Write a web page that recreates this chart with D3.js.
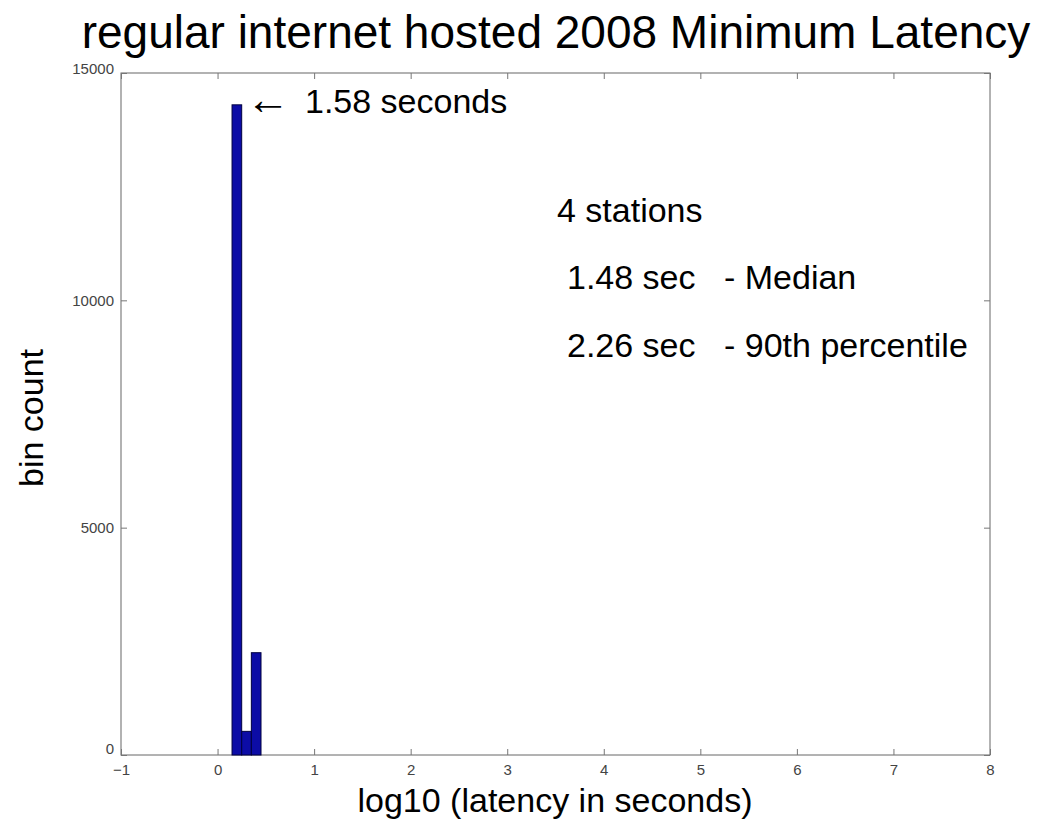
<!DOCTYPE html>
<html>
<head>
<meta charset="utf-8">
<script src="https://cdn.jsdelivr.net/npm/d3@7"></script>
<style>
  html, body { margin: 0; padding: 0; background: #fff; }
  svg { display: block; }
  text { font-family: "Liberation Sans", Arial, Helvetica, sans-serif; }
</style>
</head>
<body>
<svg id="chart" width="1039" height="822"></svg>
<script>
// Histogram bins of log10(minimum latency), bin centres and counts
const binCenters = [0.2, 0.3, 0.4];
const binCounts = [14300, 520, 2250];
const binWidth = 0.1;

const xTicks = [-1, 0, 1, 2, 3, 4, 5, 6, 7, 8];
const yTicks = [0, 5000, 10000, 15000];

const titleText = "regular internet hosted 2008 Minimum Latency";
const xLabel = "log10 (latency in seconds)";
const yLabel = "bin count";
const peakArrow = "\u2190";
const peakNote = "1.58 seconds";
const stationNote = "4 stations";
const statValues = ["1.48 sec", "2.26 sec"];
const statNames = ["- Median", "- 90th percentile"];

const svg = d3.select("#chart");
const plot = { left: 121, right: 990, top: 73, bottom: 755 };

const x = d3.scaleLinear().domain([-1, 8]).range([plot.left, plot.right]);
const y = d3.scaleLinear().domain([0, 15000]).range([plot.bottom, plot.top]);

// plot box
svg.append("rect")
  .attr("x", plot.left).attr("y", plot.top)
  .attr("width", plot.right - plot.left).attr("height", plot.bottom - plot.top)
  .attr("fill", "#fff").attr("stroke", "#666").attr("stroke-width", 1);

// bars
svg.selectAll("rect.bar")
  .data(binCenters.map((c, i) => ({ c, n: binCounts[i] })))
  .join("rect")
  .attr("class", "bar")
  .attr("x", d => x(d.c - binWidth / 2))
  .attr("width", d => x(d.c + binWidth / 2) - x(d.c - binWidth / 2))
  .attr("y", d => y(d.n))
  .attr("height", d => y(0) - y(d.n))
  .attr("fill", "#0c0ca6")
  .attr("stroke", "#000040")
  .attr("stroke-width", 1);

// axes: ticks pointing inward on all four sides
const tickLen = 6;
const gx = svg.append("g").attr("transform", `translate(0,${plot.bottom})`)
  .call(d3.axisBottom(x).tickValues(xTicks).tickSize(0).tickPadding(9).tickFormat(d3.format("d")));
const gxTop = svg.append("g").attr("transform", `translate(0,${plot.top})`)
  .call(d3.axisTop(x).tickValues(xTicks).tickSize(0).tickFormat(""));
const gy = svg.append("g").attr("transform", `translate(${plot.left},0)`)
  .call(d3.axisLeft(y).tickValues(yTicks).tickSize(0).tickPadding(7).tickFormat(d3.format("d")));
const gyRight = svg.append("g").attr("transform", `translate(${plot.right},0)`)
  .call(d3.axisRight(y).tickValues(yTicks).tickSize(0).tickFormat(""));

[gx, gxTop, gy, gyRight].forEach(g => g.select(".domain").remove());

gx.selectAll(".tick line").attr("y2", -tickLen).attr("stroke", "#777");
gxTop.selectAll(".tick line").attr("y2", tickLen).attr("stroke", "#777");
gy.selectAll(".tick line").attr("x2", tickLen).attr("stroke", "#777");
gyRight.selectAll(".tick line").attr("x2", -tickLen).attr("stroke", "#777");

gx.selectAll(".tick text").attr("font-size", 15).attr("fill", "#444");
gy.selectAll(".tick text").attr("font-size", 15).attr("fill", "#444")
  .attr("dy", d => d === 0 ? "-0.1em" : d === 15000 ? "0.05em" : "0.32em");

// title and axis labels
svg.append("text")
  .attr("x", 556).attr("y", 48)
  .attr("text-anchor", "middle")
  .attr("font-size", 46)
  .attr("fill", "#000")
  .text(titleText);

svg.append("text")
  .attr("x", 555).attr("y", 812)
  .attr("text-anchor", "middle")
  .attr("font-size", 34)
  .attr("fill", "#000")
  .text(xLabel);

svg.append("text")
  .attr("transform", "translate(43,418) rotate(-90)")
  .attr("text-anchor", "middle")
  .attr("font-size", 34)
  .attr("fill", "#000")
  .text(yLabel);

// annotation on the tallest bin
svg.append("text")
  .attr("x", 246).attr("y", 114)
  .attr("font-size", 44)
  .attr("fill", "#000")
  .text(peakArrow);
svg.append("text")
  .attr("x", 305).attr("y", 113)
  .attr("font-size", 34)
  .attr("fill", "#000")
  .text(peakNote);

// summary statistics
svg.append("text")
  .attr("x", 557).attr("y", 222)
  .attr("font-size", 34)
  .attr("fill", "#000")
  .text(stationNote);

svg.selectAll("text.statval")
  .data(statValues)
  .join("text")
  .attr("class", "statval")
  .attr("x", 567)
  .attr("y", (d, i) => 289 + i * 68)
  .attr("font-size", 34)
  .attr("fill", "#000")
  .text(d => d);

svg.selectAll("text.statname")
  .data(statNames)
  .join("text")
  .attr("class", "statname")
  .attr("x", 724)
  .attr("y", (d, i) => 289 + i * 68)
  .attr("font-size", 34)
  .attr("fill", "#000")
  .text(d => d);
</script>
</body>
</html>
